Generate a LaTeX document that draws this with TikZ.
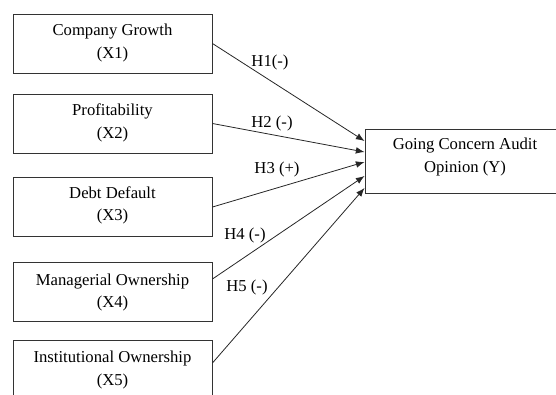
\documentclass[tikz,border=0pt]{standalone}
\usepackage{fontspec}
\setmainfont{Liberation Serif}
\usetikzlibrary{arrows.meta}

\begin{document}
\begin{tikzpicture}[x=0.75pt, y=-0.75pt]
        \tikzstyle{every node}=[font=\fontsize{12.5}{17}\selectfont, text=black, inner sep=1pt]
        \tikzstyle{box}=[rectangle, draw=black!80, line width=0.7pt, minimum width=149.25pt, minimum height=44.25pt]
        \tikzstyle{edge}=[black!85, line width=0.6pt, -{Latex[length=6.5pt, width=5pt]}]

        \clip (0,0) rectangle (556,394);

        \node[box] (x1) at (112.5,43.5)  {\begin{tabular}{c} Company Growth \\ (X1) \\[2pt] \end{tabular}};
        \node[box] (x2) at (112.5,123.5) {\begin{tabular}{c} Profitability \\ (X2) \\[2pt] \end{tabular}};
        \node[box] (x3) at (112.5,207)   {\begin{tabular}{c} Debt Default \\ (X3) \\[3pt] \end{tabular}};
        \node[box] (x4) at (112.5,292)   {\begin{tabular}{c} Managerial Ownership \\ (X4) \end{tabular}};
        \node[box] (x5) at (112.5,369.5) {\begin{tabular}{c} Institutional Ownership \\ (X5) \end{tabular}};

        \node[box, minimum width=150pt, minimum height=48pt] (y) at (465,161) {\begin{tabular}{c} Going Concern Audit \\ Opinion (Y) \\[7pt] \end{tabular}};

        \node (h1) at (270,62)  {H1(-)};
        \node (h2) at (272,123) {H2 (-)};
        \node (h3) at (277,169) {H3 (+)};
        \node (h4) at (245,235) {H4 (-)};
        \node (h5) at (247,287) {H5 (-)};

        \draw[edge] (x1.east) -- ([yshift=15pt]y.west);
        \draw[edge] (x2.east) -- ([yshift=6.75pt]y.west);
        \draw[edge] (x3.east) -- ([yshift=-0.75pt]y.west);
        \draw[edge] ([yshift=9.75pt]x4.east) -- ([yshift=-11.25pt]y.west);
        \draw[edge] ([yshift=4.9pt]x5.east) -- ([yshift=-20.25pt]y.west);
\end{tikzpicture}
\end{document}
